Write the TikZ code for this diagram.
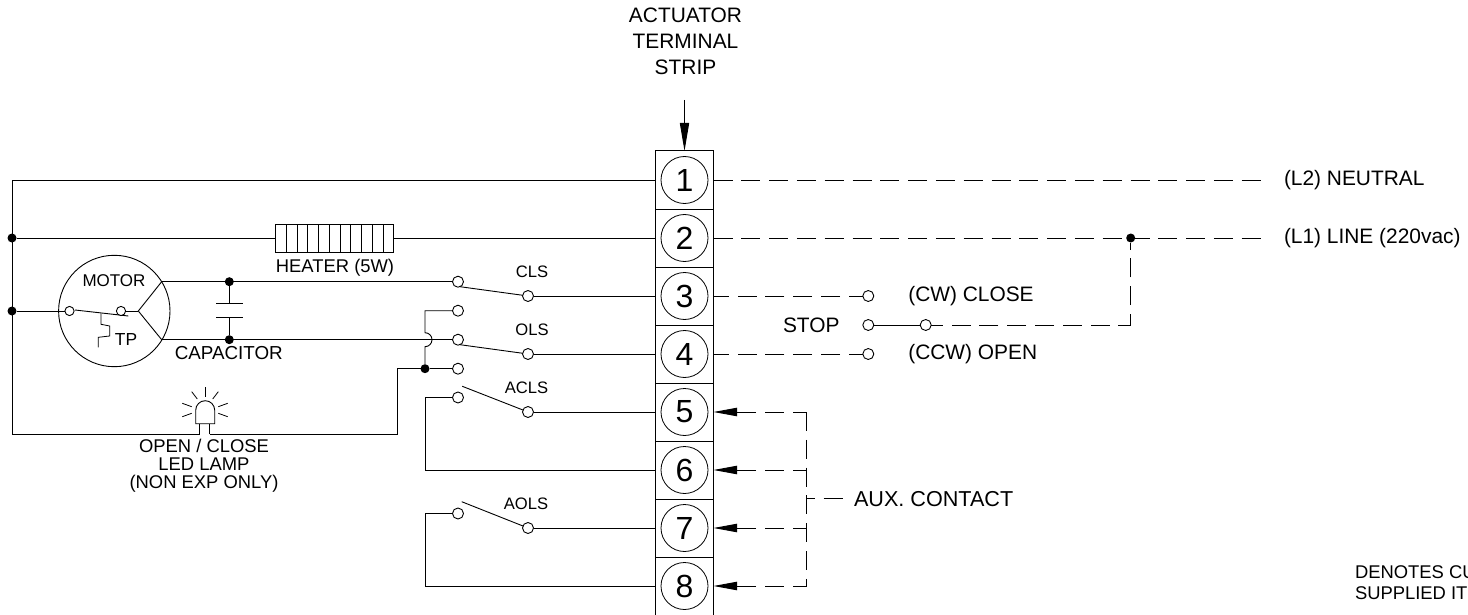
\documentclass[tikz,border=0pt]{standalone}
\usepackage{fontspec}
\setmainfont{Liberation Sans}
\usetikzlibrary{arrows.meta,calc}
\tikzset{
  x=0.5pt,y=-0.5pt,
  wire/.style={line width=0.45pt,line join=miter},
  thinwire/.style={line width=0.4pt},
  dashwire/.style={wire,dash pattern=on 9.5pt off 4.4pt},
  auxwire/.style={dashwire,dash phase=2.5pt,-{Triangle[length=11.8pt,width=4.2pt]}},
  cell/.style={draw,line width=0.5pt,minimum width=29pt,minimum height=29pt,inner sep=0pt,outer sep=0pt},
  termnum/.style={draw,circle,line width=0.4pt,minimum size=23.5pt,inner sep=0pt,outer sep=0pt,font=\fontsize{16}{16}\selectfont},
  contact/.style={draw,circle,fill=white,line width=0.45pt,minimum size=5.5pt,inner sep=0pt,outer sep=0pt},
  mcontact/.style={contact,minimum size=4.6pt},
  junction/.style={circle,fill=black,minimum size=4.5pt,inner sep=0pt,outer sep=0pt},
  lab/.style={inner sep=0pt,outer sep=0pt,align=center,font=\fontsize{9.2}{9.1}\selectfont},
  biglab/.style={inner sep=0pt,outer sep=0pt,anchor=west,font=\fontsize{10.45}{10.45}\selectfont},
  smalllab/.style={inner sep=0pt,outer sep=0pt,font=\fontsize{8.3}{8.3}\selectfont},
}
\begin{document}
\begin{tikzpicture}
\useasboundingbox (0,0) rectangle (1468,615);

% terminal strip
\foreach \n/\y in {1/180,2/238,3/296,4/354,5/412,6/470,7/528,8/586}{
  \node[cell] (t\n) at (684.5,\y) {};
  \node[termnum] (n\n) at (t\n) {\n};
}
\node[lab,font=\fontsize{10.45}{13}\selectfont] (title) at (685.5,41.5) {ACTUATOR\\TERMINAL\\STRIP};
\coordinate (arrowtop) at (684.5,100);
\draw[wire,-{Triangle[length=14pt,width=4.6pt]}] (arrowtop) -- (t1.north);

% junctions on the left bus
\coordinate (bustop) at (12,180);
\node[junction] (j2) at (12,238) {};
\node[junction] (j3) at (12,311) {};
\coordinate (busbot) at (12,434);
\draw[wire] (t1.west) -- (bustop) -- (busbot);

% heater
\node[draw,line width=0.45pt,minimum width=59pt,minimum height=14pt,inner sep=0pt,outer sep=0pt] (heater) at (334.7,238) {};
\foreach \i in {1,...,10}{
  \draw[thinwire] ($(heater.north west)+(\i*10.73,0)$) -- ($(heater.south west)+(\i*10.73,0)$);
}
\draw[wire] (j2) -- (heater.west);
\draw[wire] (heater.east) -- (t2.west);
\node[lab] (heaterlab) at (335,268) {HEATER (5W)};

% motor
\node[draw,circle,line width=0.45pt,minimum size=55.7pt,inner sep=0pt,outer sep=0pt] (motor) at (114.3,311) {};
\node[smalllab,font=\fontsize{8.5}{8.5}\selectfont] (motorlab) at (114,281) {MOTOR};
\coordinate (bladea) at (75,310);
\coordinate (bladeb) at (128.3,316);
\draw[wire] (bladea) -- (bladeb);
\node[mcontact] (m1) at (69.5,311) {};
\node[mcontact] (m2) at (121,311) {};
\coordinate (fork) at (138.3,311);
\coordinate (fa) at (161.7,281.7);
\coordinate (fb) at (161.7,339.7);
\draw[wire] (j3) -- (m1);
\draw[wire] (m2) -- (fork);
\draw[wire] (fa) -- (fork) -- (fb);
\draw[thinwire] (101,313.3) -- (101,324.3) -- (109.7,326) -- (109.7,336) -- (98.3,337.3) -- (98.3,347.3);
\node[smalllab,font=\fontsize{8.7}{8.7}\selectfont] (tp) at (126,340) {TP};

% capacitor
\node[junction] (ca) at (229.3,281.7) {};
\node[junction] (cb) at (229.3,339.7) {};
\coordinate (pa) at (229.3,303.7);
\coordinate (pb) at (229.3,317.7);
\draw[wire] (ca) -- (pa);
\draw[wire] (cb) -- (pb);
\draw[wire] (216,303.7) -- (243,303.7);
\draw[wire] (216,317.7) -- (243,317.7);
\node[lab,font=\fontsize{9.4}{9.4}\selectfont] (caplab) at (228.8,353.3) {CAPACITOR};

% switch contacts
\node[contact] (s1) at (458,281.7) {};
\node[contact] (s2) at (458,310.7) {};
\node[contact] (s3) at (458,339.7) {};
\node[contact] (s4) at (458,368.7) {};
\node[contact] (s5) at (458,397.5) {};
\node[contact] (s6) at (458,513.5) {};
\node[contact] (c3) at (528,296) {};
\node[contact] (c4) at (528,354) {};
\node[contact] (c5) at (528,412) {};
\node[contact] (c7) at (528,528) {};
\draw[wire] (c3) -- (t3.west);
\draw[wire] (c4) -- (t4.west);
\draw[wire] (c5) -- (t5.west);
\draw[wire] (c7) -- (t7.west);
\draw[wire] (460,286.7) -- (c3);
\draw[wire] (460,344.7) -- (c4);
\draw[wire] (462.3,386.3) -- (c5);
\draw[wire] (461.7,501.7) -- (c7);
\draw[wire] (fa) -- (s1);
\draw[wire] (fb) -- (s3);
\node[smalllab] (cls) at (532,272) {CLS};
\node[smalllab] (ols) at (532,330) {OLS};
\node[smalllab] (acls) at (526.5,388) {ACLS};
\node[smalllab] (aols) at (526,504) {AOLS};

% lamp wire, jump and aux links
\node[junction] (j4) at (425,368.7) {};
\coordinate (lampa) at (199.5,434);
\coordinate (lampb) at (209.7,434);
\draw[wire] (busbot) -- (lampa);
\draw[wire] (lampb) -- (397,434) -- (397,368.7) -- (j4) -- (s4);
\draw[wire] (j4) -- (425,346.7) arc[start angle=90,end angle=-90,radius=7] -- (425,310.7) -- (s2);
\draw[wire] (s5) -- (425.3,397.5) -- (425.3,470) -- (t6.west);
\draw[wire] (s6) -- (425.3,513.5) -- (425.3,586) -- (t8.west);

% lamp
\draw[wire] (199.5,434) -- (199.5,423.7);
\draw[wire] (209.7,434) -- (209.7,423.7);
\draw[wire] (195.7,423.7) -- (214.7,423.7) -- (214.7,410.2) arc[start angle=0,end angle=-180,radius=9.5] -- cycle;
\foreach \a/\b/\c/\d in {205/387/205/397,191.7/391.7/197.3/399,218.3/391.7/212.7/399,182.3/403.3/191.7/406.7,227.7/403.3/218.3/406.7,182.3/416.7/191.7/413.3,227.7/416.7/218.3/413.3}{
  \draw[thinwire] (\a,\b) -- (\c,\d);
}
\node[lab] (lamplab) at (204,466) {OPEN / CLOSE\\LED LAMP\\(NON EXP ONLY)};

% field wiring
\coordinate (l2end) at (1262,180);
\coordinate (l1end) at (1262,238);
\node[junction] (j5) at (1130.7,238) {};
\coordinate (stopc) at (1130.7,325);
\draw[dashwire] (t1.east) -- (l2end);
\draw[dashwire] (t2.east) -- (l1end);
\node[contact] (cw) at (868.3,296) {};
\node[contact] (ccw) at (868.3,354) {};
\node[contact] (st1) at (868.3,325) {};
\node[contact] (st2) at (925.7,325) {};
\draw[dashwire,dash phase=2.5pt] (cw) -- (t3.east);
\draw[dashwire,dash phase=2.5pt] (ccw) -- (t4.east);
\draw[wire] (st1) -- (st2);
\draw[dashwire,dash phase=4pt] (stopc) -- (j5);
\draw[dashwire,dash phase=3.35pt] (stopc) -- (st2);
\node[biglab] (l2lab) at (1284,180) {(L2) NEUTRAL};
\node[biglab] (l1lab) at (1284,238) {(L1) LINE (220vac)};
\node[biglab] (cwlab) at (908.3,296.5) {(CW) CLOSE};
\node[biglab] (ccwlab) at (908.3,354.5) {(CCW) OPEN};
\node[biglab] (stoplab) at (783,325) {STOP};

% aux contact
\coordinate (ax5) at (806.7,412);
\coordinate (ax6) at (806.7,470);
\coordinate (ax7) at (806.7,528);
\coordinate (ax8) at (806.7,586);
\coordinate (axm) at (806.7,498.7);
\coordinate (axe) at (843,498.7);
\draw[auxwire] (ax5) -- (t5.east);
\draw[auxwire] (ax6) -- (t6.east);
\draw[auxwire] (ax7) -- (t7.east);
\draw[auxwire] (ax8) -- (t8.east);
\draw[dashwire] (ax5) -- (ax8);
\draw[dashwire,dash phase=5.5pt] (axm) -- (axe);
\node[biglab,font=\fontsize{10.8}{10.8}\selectfont] (auxlab) at (854,499) {AUX. CONTACT};

% cropped note
\node[lab,anchor=west,font=\fontsize{9.2}{10.5}\selectfont,align=left] (note) at (1355,583) {DENOTES CU\\SUPPLIED IT};
\end{tikzpicture}
\end{document}
